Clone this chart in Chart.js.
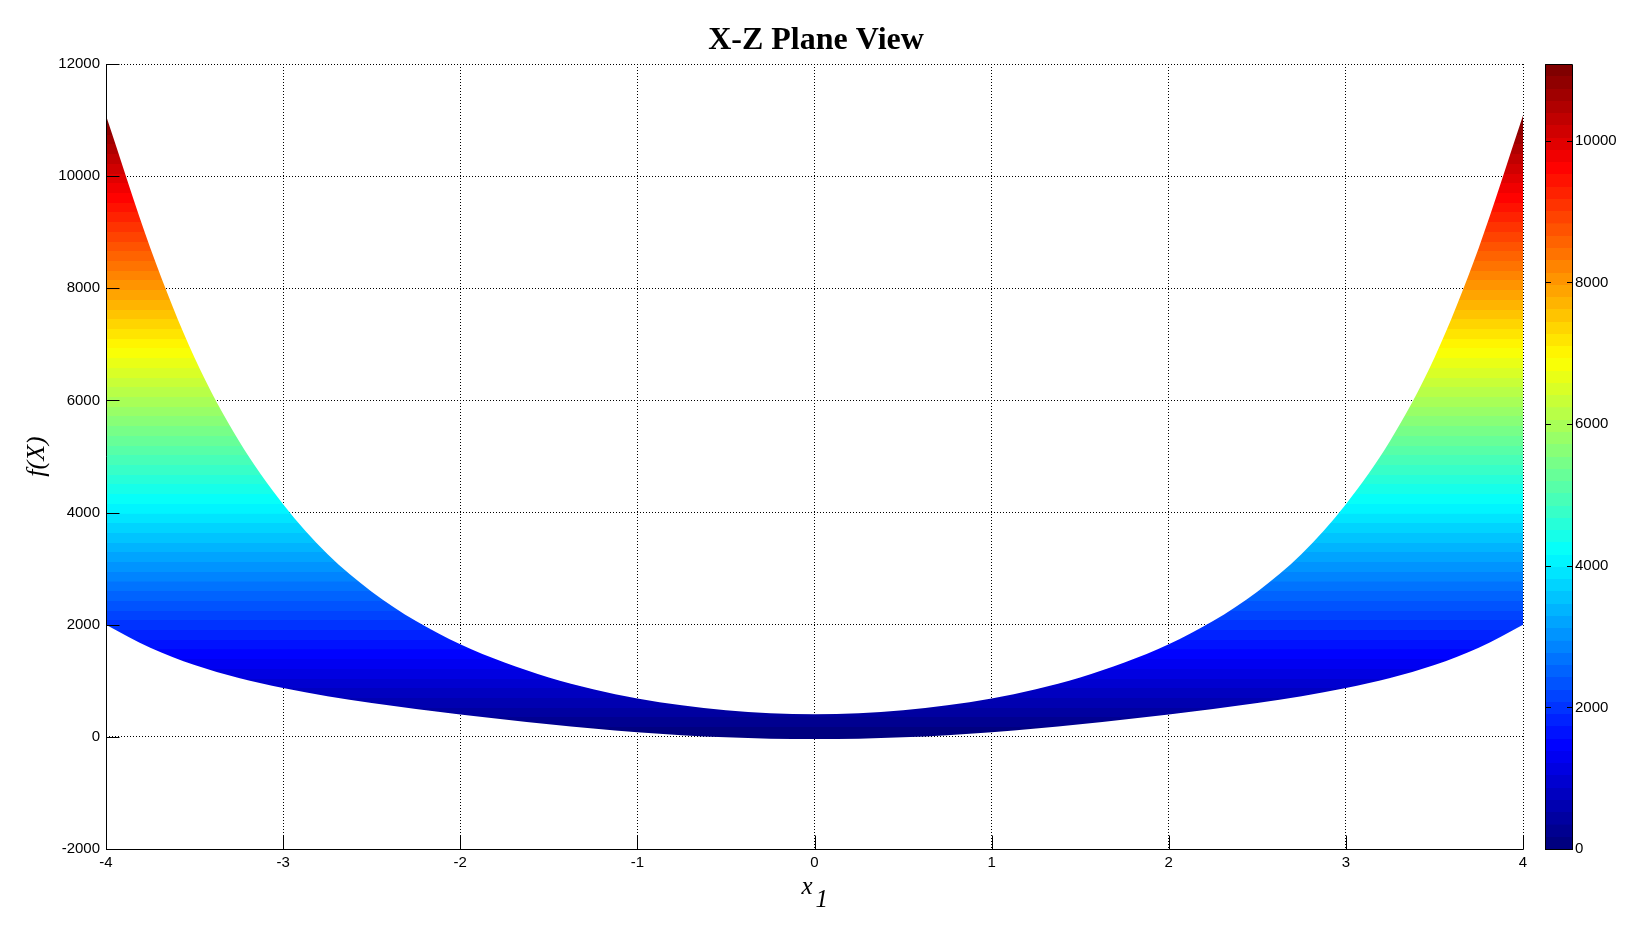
<!DOCTYPE html>
<html>
<head>
<meta charset="utf-8">
<title>X-Z Plane View</title>
<script src="https://cdn.jsdelivr.net/npm/chart.js@4.4.1/dist/chart.umd.min.js"></script>
<style>
  html, body { margin: 0; padding: 0; background: #fff; }
  canvas { display: block; }
</style>
</head>
<body>
<canvas id="plane" width="1632" height="945"></canvas>
<script>
// x1 samples, the picture is symmetric about 0
const x1Values = [-4, -3.75, -3.5, -3.25, -3, -2.75, -2.5, -2.25, -2, -1.75, -1.5, -1.25, -1, -0.75, -0.5, -0.25, 0,
                  0.25, 0.5, 0.75, 1, 1.25, 1.5, 1.75, 2, 2.25, 2.5, 2.75, 3, 3.25, 3.5, 3.75, 4];
// top edge of the surface seen side-on
const upperValues = [11080, 8720, 6760, 5280, 4150, 3260, 2590, 2065, 1650, 1325, 1060, 850, 685, 565, 475, 422, 405,
                     422, 475, 565, 685, 850, 1060, 1325, 1650, 2065, 2590, 3260, 4150, 5280, 6760, 8720, 11080];
// bottom edge
const lowerValues = [2000, 1588, 1280, 1048, 870, 726, 603, 497, 400, 310, 226, 148, 80, 30, -7, -32, -40,
                     -32, -7, 30, 80, 148, 226, 310, 400, 497, 603, 726, 870, 1048, 1280, 1588, 2000];

const xTicks = [-4, -3, -2, -1, 0, 1, 2, 3, 4];
const yTicks = [-2000, 0, 2000, 4000, 6000, 8000, 10000, 12000];
const colorbarTicks = [0, 2000, 4000, 6000, 8000, 10000];
const colorMin = 0;
const colorMax = 11085;

const tickFont = { family: '"Liberation Sans", Arial, sans-serif', size: 15 };
const serif = '"Liberation Serif", "Times New Roman", serif';
const plain = v => String(v);

// matlab jet colormap
function jet(t) {
    const c = v => Math.round(255 * Math.min(1, Math.max(0, v)));
    return 'rgb(' + c(1.5 - Math.abs(4 * t - 3)) + ',' + c(1.5 - Math.abs(4 * t - 2)) + ',' + c(1.5 - Math.abs(4 * t - 1)) + ')';
}

function jetGradient(ctx, scale) {
    const n = 64;
    const g = ctx.createLinearGradient(0, scale.getPixelForValue(colorMin), 0, scale.getPixelForValue(colorMax));
    for (let i = 0; i < n; i++) {
        const col = jet(i / (n - 1));
        g.addColorStop(i / n, col);
        g.addColorStop((i + 1) / n - 0.0001, col);
    }
    return g;
}

const points = vals => x1Values.map((x, i) => ({ x: x, y: vals[i] }));

// axes lines, inner ticks, colorbar and the x1 label
const matlabFrame = {
    id: 'matlabFrame',
    afterDatasetsDraw(chart) {
        const { ctx, chartArea: a, scales } = chart;
        const xs = scales.x, ys = scales.y, cb = scales.cb;
        const L = Math.round(a.left) + 0.5, B = Math.round(a.bottom) + 0.5;
        ctx.save();
        ctx.strokeStyle = '#000';
        ctx.lineWidth = 1;
        ctx.beginPath();
        ctx.moveTo(L, a.top);
        ctx.lineTo(L, B);
        ctx.lineTo(a.right + 0.5, B);
        ys.ticks.forEach(t => {
            const y = Math.round(ys.getPixelForValue(t.value)) + 0.5;
            ctx.moveTo(L, y);
            ctx.lineTo(L + 13, y);
        });
        xs.ticks.forEach(t => {
            const x = Math.round(xs.getPixelForValue(t.value)) + 0.5;
            ctx.moveTo(x, B);
            ctx.lineTo(x, B - 14);
        });
        ctx.stroke();

        const cx0 = Math.round(a.right + 22), cx1 = Math.round(a.right + 49);
        const cTop = Math.round(cb.getPixelForValue(colorMax)), cBot = Math.round(cb.getPixelForValue(colorMin));
        ctx.fillStyle = jetGradient(ctx, cb);
        ctx.fillRect(cx0, cTop, cx1 - cx0, cBot - cTop);
        ctx.beginPath();
        ctx.rect(cx0 + 0.5, cTop + 0.5, cx1 - cx0, cBot - cTop);
        cb.ticks.forEach(t => {
            const y = Math.round(cb.getPixelForValue(t.value)) + 0.5;
            ctx.moveTo(cx0, y);
            ctx.lineTo(cx0 + 6, y);
            ctx.moveTo(cx1 - 5, y);
            ctx.lineTo(cx1 + 1, y);
        });
        ctx.stroke();

        const mid = (a.left + a.right) / 2;
        ctx.fillStyle = '#000';
        ctx.font = 'italic 25px ' + serif;
        ctx.textAlign = 'left';
        ctx.textBaseline = 'alphabetic';
        ctx.fillText('x', mid - 13, a.bottom + 45);
        ctx.fillText('1', mid + 1, a.bottom + 58);
        ctx.restore();
    }
};

new Chart(document.getElementById('plane'), {
    type: 'line',
    data: {
        datasets: [{
            label: 'upper',
            data: points(upperValues),
            fill: false,
            borderWidth: 0,
            borderColor: 'rgba(0,0,0,0)'
        }, {
            label: 'lower',
            data: points(lowerValues),
            fill: '-1',
            borderWidth: 0,
            borderColor: 'rgba(0,0,0,0)',
            backgroundColor: c => c.chart.chartArea ? jetGradient(c.chart.ctx, c.chart.scales.y) : 'blue'
        }]
    },
    options: {
        responsive: false,
        devicePixelRatio: 1,
        animation: false,
        layout: { padding: 0 },
        elements: {
            point: { radius: 0 },
            line: { cubicInterpolationMode: 'monotone' }
        },
        plugins: {
            legend: { display: false },
            tooltip: { enabled: false },
            title: {
                display: true,
                text: 'X-Z Plane View',
                color: '#000',
                font: { family: serif, size: 32, weight: 'bold', lineHeight: 1.2 },
                padding: { top: 22, bottom: 3.6 }
            }
        },
        scales: {
            x: {
                type: 'linear',
                min: -4,
                max: 4,
                afterBuildTicks: s => { s.ticks = xTicks.map(v => ({ value: v })); },
                afterFit: s => { s.height = 96; },
                grid: { color: '#000', lineWidth: 1, drawTicks: false },
                border: { display: false, dash: [1, 2] },
                ticks: { color: '#000', font: tickFont, padding: 5, maxRotation: 0, callback: plain }
            },
            y: {
                type: 'linear',
                position: 'left',
                min: -2000,
                max: 12000,
                afterBuildTicks: s => { s.ticks = yTicks.map(v => ({ value: v })); },
                afterFit: s => { s.width = 106; },
                grid: { color: '#000', lineWidth: 1, drawTicks: false },
                border: { display: false, dash: [1, 2] },
                ticks: { color: '#000', font: tickFont, padding: 6, callback: plain },
                title: {
                    display: true,
                    text: 'f(X)',
                    color: '#000',
                    font: { family: serif, size: 26, style: 'italic', lineHeight: 1.2 },
                    padding: { top: 22, bottom: 0 }
                }
            },
            cb: {
                type: 'linear',
                position: 'right',
                min: colorMin,
                max: colorMax,
                afterBuildTicks: s => { s.ticks = colorbarTicks.map(v => ({ value: v })); },
                afterFit: s => { s.width = 109; },
                grid: { display: false, drawTicks: false },
                border: { display: false },
                ticks: { color: '#000', font: tickFont, padding: 52, callback: plain }
            }
        }
    },
    plugins: [matlabFrame]
});
</script>
</body>
</html>
